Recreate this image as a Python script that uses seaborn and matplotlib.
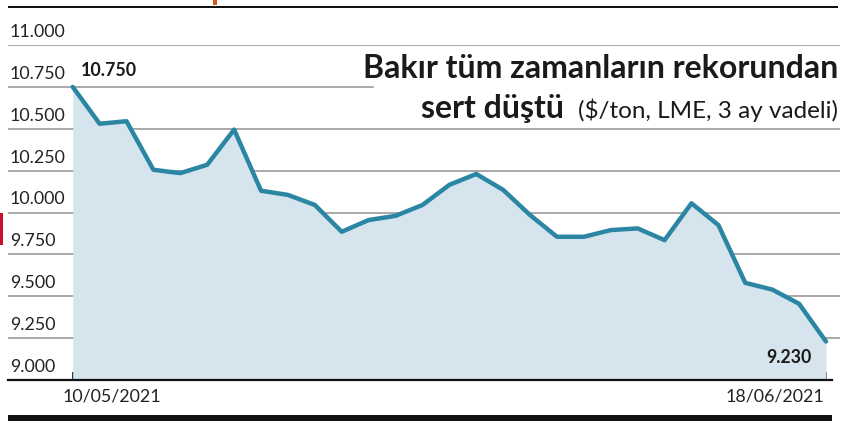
import numpy as np
import pandas as pd
import matplotlib
matplotlib.use("Agg")
import matplotlib.pyplot as plt
import matplotlib.patches as mpatches
import seaborn as sns

# LME 3 ay vadeli bakir, $/ton (31 Mayis tatil)
dates = [d for d in pd.bdate_range("2021-05-10", "2021-06-18") if d != pd.Timestamp("2021-05-31")]
prices = [10750, 10530, 10545, 10255, 10235, 10285, 10495, 10130, 10105, 10045,
          9885, 9955, 9980, 10045, 10165, 10230, 10135, 9985, 9855, 9855,
          9895, 9905, 9835, 10055, 9925, 9580, 9540, 9455, 9230]
y_ticks = [9000, 9250, 9500, 9750, 10000, 10250, 10500, 10750, 11000]
y_labels = ["9.000", "9.250", "9.500", "9.750", "10.000", "10.250", "10.500", "10.750", "11.000"]
title1 = "Bakır tüm zamanların rekorundan"
title2_bold = "sert düştü"
title2_rest = "($/ton, LME, 3 ay vadeli)"

df = pd.DataFrame({"i": range(len(prices)), "tarih": dates, "fiyat": prices})

sns.set_theme(style="white")
plt.rcParams["font.family"] = ["Lato", "DejaVu Sans"]

W, H = 850, 421
fig = plt.figure(figsize=(W / 100, H / 100), dpi=100)
ax = fig.add_axes([8 / W, 41 / H, 832 / W, 335 / H])

line_col = "#2b86a3"
fill_col = "#d6e4ee"
grid_col = "#a9a9a9"

n = len(prices)
step_px = (826 - 72.7) / (n - 1)
xmin = -(72.7 - 8) / step_px
xmax = (n - 1) + (840 - 826) / step_px
ax.set_xlim(xmin, xmax)
ax.set_ylim(9000, 11000)

# gridlines (10.750 cut by title box)
for v in y_ticks[1:]:
    if v == 10750:
        ax.axhline(v, xmin=0, xmax=(373 - 8) / 832, color=grid_col, lw=1.4, zorder=1)
    else:
        ax.axhline(v, color=grid_col, lw=1.4, zorder=1)

ax.fill_between(df["i"], df["fiyat"], 9000, color=fill_col, lw=0, zorder=2)
sns.lineplot(data=df, x="i", y="fiyat", ax=ax, color=line_col, lw=3.2, zorder=3)

for s in ["top", "right", "left"]:
    ax.spines[s].set_visible(False)
ax.spines["bottom"].set_color("#111111")
ax.spines["bottom"].set_linewidth(1.6)
ax.spines["bottom"].set_bounds(xmin, (n - 1) + 6 / step_px)

ax.set_yticks([])
ax.set_ylabel("")
ax.set_xlabel("")
ax.set_xticks(np.linspace(0, n - 1, 30))
ax.set_xticklabels([])
ax.tick_params(axis="x", direction="in", length=6, width=1.2, color="#111111", bottom=True)

# y labels sit above gridlines
for v, lab in zip(y_ticks, y_labels):
    ax.annotate(lab, xy=(0, v), xycoords=("axes fraction", "data"),
                xytext=(2, 5), textcoords="offset pixels",
                ha="left", va="bottom", fontsize=12.8, color="#222222")

# date labels
ax.annotate(dates[0].strftime("%d/%m/%Y"), xy=(0, 9000), xytext=(-10, -9),
            textcoords="offset pixels", ha="left", va="top", fontsize=12.8, color="#222222")
ax.annotate(dates[-1].strftime("%d/%m/%Y"), xy=(n - 1, 9000), xytext=(-2, -9),
            textcoords="offset pixels", ha="right", va="top", fontsize=12.8, color="#222222")

# value labels
ax.annotate(y_labels[-2], xy=(0, prices[0]), xytext=(8, 8), textcoords="offset pixels",
            ha="left", va="bottom", fontsize=12.8, fontweight="bold", color="#1a1a1a")
ax.annotate(f"{prices[-1] / 1000:.3f}", xy=(n - 1, prices[-1]), xytext=(-14, -8),
            textcoords="offset pixels", ha="right", va="top", fontsize=12.8,
            fontweight="bold", color="#1a1a1a")

# title
fig.text(838 / W, 1 - 78 / H, title1, ha="right", va="baseline", fontsize=23,
         fontweight="bold", color="#1a1a1a")
t_rest = fig.text(838 / W, 1 - 118 / H, title2_rest, ha="right", va="baseline",
                  fontsize=17.5, fontweight="normal", color="#1a1a1a")
fig.canvas.draw()
bb = t_rest.get_window_extent(renderer=fig.canvas.get_renderer())
fig.text((bb.x0 - 14) / W, 1 - 118 / H, title2_bold, ha="right", va="baseline",
         fontsize=23, fontweight="bold", color="#1a1a1a")

# page frame bits
fig.add_artist(mpatches.Rectangle((8 / W, 1 - 8 / H), 830 / W, 2 / H, transform=fig.transFigure,
                                  color="#111111", lw=0))
fig.add_artist(mpatches.Rectangle((8 / W, 0), 824 / W, 6 / H, transform=fig.transFigure,
                                  color="#111111", lw=0))
fig.add_artist(mpatches.Rectangle((0, 1 - 245 / H), 3 / W, 32 / H, transform=fig.transFigure,
                                  color="#c8102e", lw=0))
fig.add_artist(mpatches.Rectangle((213 / W, 1 - 5 / H), 4 / W, 5 / H, transform=fig.transFigure,
                                  color="#d9531e", lw=0))

fig.savefig("out.png", dpi=100)
